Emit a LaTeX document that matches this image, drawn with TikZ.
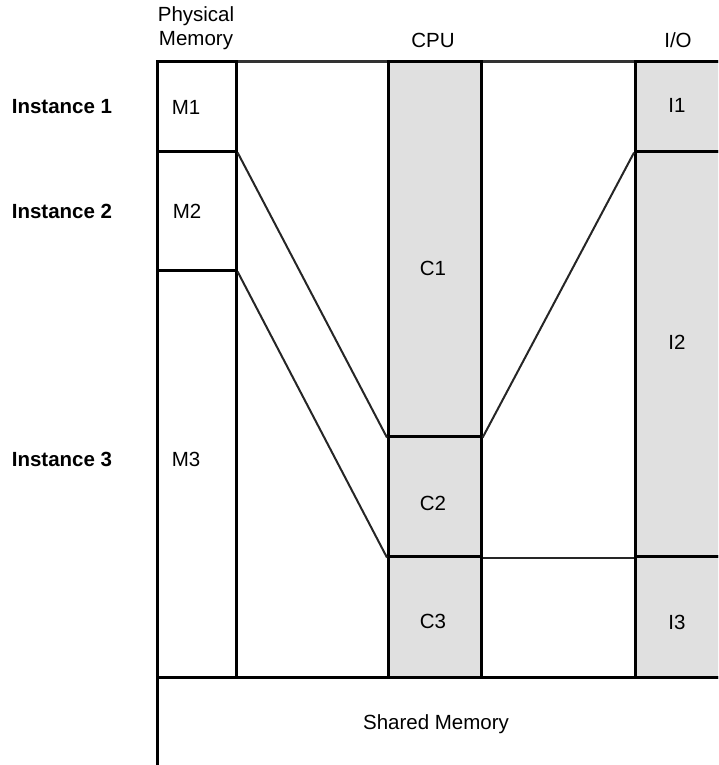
\documentclass[tikz,border=0pt]{standalone}
\usepackage{fontspec}
\setmainfont{Liberation Sans}
\definecolor{cellgray}{RGB}{224,224,224}

\begin{document}
\begin{tikzpicture}[x=1pt, y=-1pt,
	cell/.style={shape=rectangle, draw=black, line width=2.6pt, inner sep=0pt, anchor=north west},
	greycell/.style={cell, fill=cellgray},
	link/.style={draw=black!85, line width=2pt},
	txt/.style={font=\fontsize{20.5}{24}\selectfont},
	head/.style={font=\fontsize{20.5}{24}\selectfont\bfseries}]
	\useasboundingbox (0,0) rectangle (718,765);
	\clip (0,0) rectangle (718,765);

	% frame and cells
	\node[cell, draw=black!80, line width=3pt, minimum width=620, minimum height=760] (frame) at (156,60) {};
	\node[cell, minimum width=620, minimum height=150] (shared) at (156,676) {};

	\node[cell, minimum width=79, minimum height=90]  (m1) at (156,60)  {};
	\node[cell, minimum width=79, minimum height=119] (m2) at (156,150) {};
	\node[cell, minimum width=79, minimum height=407] (m3) at (156,269) {};

	\node[greycell, minimum width=93, minimum height=375] (c1) at (387,60)  {};
	\node[greycell, minimum width=93, minimum height=120] (c2) at (387,435) {};
	\node[greycell, minimum width=93, minimum height=121] (c3) at (387,555) {};

	\node[greycell, minimum width=100, minimum height=90]  (i1) at (634,60)  {};
	\node[greycell, minimum width=100, minimum height=405] (i2) at (634,150) {};
	\node[greycell, minimum width=100, minimum height=121] (i3) at (634,555) {};

	% connectors
	\path[link] (m1.south east) -- (c1.south west);
	\path[link] (m2.south east) -- (c2.south west);
	\path[link] (i1.south west) -- (c1.south east);
	\path[link, line width=1.8pt] (c2.south east) -- (i2.south west);

	% headings
	\node[txt, align=center] (phys) at (196,28) {Physical\\Memory};
	\node[txt] (cpu) at (433,40) {CPU};
	\node[txt] (io)  at (678,40) {I/O};

	\node[head] (inst1) at (62,107) {Instance 1};
	\node[head] (inst2) at (62,211) {Instance 2};
	\node[head] (inst3) at (62,459) {Instance 3};

	% cell labels
	\node[txt] (lm1) at (186,107) {M1};
	\node[txt] (lm2) at (187,211) {M2};
	\node[txt] (lm3) at (186,459) {M3};
	\node[txt] (lc1) at (433,268) {C1};
	\node[txt] (lc2) at (433,503) {C2};
	\node[txt] (lc3) at (433,621) {C3};
	\node[txt] (li1) at (677,105) {I1};
	\node[txt] (li2) at (677,342) {I2};
	\node[txt] (li3) at (677,622) {I3};
	\node[txt] (lsh) at (436,724) {Shared Memory};

\end{tikzpicture}
\end{document}
